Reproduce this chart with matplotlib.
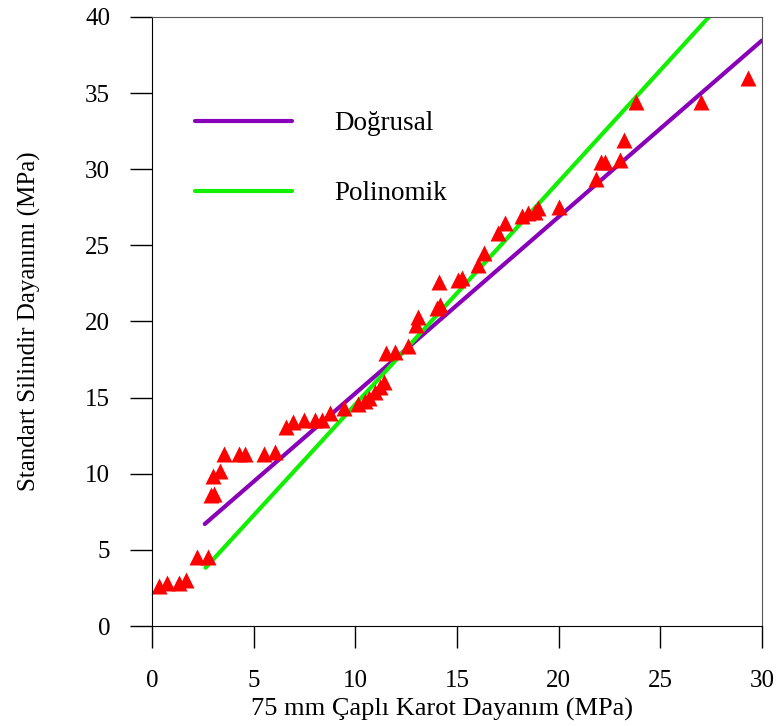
import matplotlib
matplotlib.use("Agg")
import matplotlib.pyplot as plt

plt.rcParams['font.family'] = ['Liberation Serif', 'DejaVu Serif']

# measured points: 75 mm core strength vs standard cylinder strength
core_x = [0.36, 0.75, 1.34, 1.66, 2.23, 2.77, 2.9, 3.05, 3.0, 3.35,
          3.56, 4.28, 4.57, 5.52, 6.05, 6.6, 6.95, 7.5, 8.0, 8.35,
          8.75, 9.45, 10.15, 10.5, 10.7, 10.97, 11.2, 11.4, 11.5, 11.95,
          12.6, 13.0, 13.1, 14.0, 14.15, 14.13, 15.07, 15.23, 16.05, 16.33,
          17.03, 17.36, 18.18, 18.5, 18.85, 19.0, 20.03, 21.85, 22.07, 22.3,
          23.0, 23.2, 23.8, 27.0, 29.3]
cyl_y = [2.65, 2.8, 2.8, 3.0, 4.55, 4.55, 8.6, 8.7, 9.85, 10.2,
         11.3, 11.3, 11.3, 11.3, 11.4, 13.1, 13.4, 13.5, 13.5, 13.5,
         14.0, 14.3, 14.6, 14.75, 15.0, 15.4, 15.7, 16.0, 17.9, 18.0,
         18.4, 19.8, 20.3, 20.9, 21.1, 22.6, 22.7, 22.85, 23.7, 24.5,
         25.8, 26.45, 26.9, 27.1, 27.2, 27.45, 27.55, 29.35, 30.45, 30.45,
         30.6, 31.9, 34.4, 34.4, 36.0]

# fitted curves (end points)
lin_x = [2.6, 30.0]
lin_y = [6.7, 38.45]
poly_x = [2.64, 9.25, 17.12, 27.4]
poly_y = [3.83, 13.45, 24.95, 40.0]

fig = plt.figure(figsize=(7.79, 7.26), dpi=100)
ax = fig.add_axes([0.195, 0.1377, 0.783, 0.839])

ax.plot(lin_x, lin_y, color='#8800b8', lw=3, label='Doğrusal', solid_capstyle='round')
ax.plot(poly_x, poly_y, color='#11f000', lw=3, label='Polinomik', solid_capstyle='round')
ax.plot(core_x, cyl_y, '^', color='#ff0000', ms=12, mec='none', clip_on=False)

ax.set_xlim(0, 30)
ax.set_ylim(0, 40)
ax.set_xticks(range(0, 31, 5))
ax.set_yticks(range(0, 41, 5))
ax.tick_params(direction='out', length=16, width=1, labelsize=18)
ax.tick_params(axis='x', pad=16)
ax.tick_params(axis='y', pad=14)
for side in ['top', 'right']:
    ax.spines[side].set_color('#555555')

ax.set_xlabel('75 mm Çaplı Karot Dayanım (MPa)', fontsize=19, labelpad=4, x=0.475)
ax.set_ylabel('Standart Silindir Dayanımı (MPa)', fontsize=18, labelpad=32)

ax.legend(loc='upper left', bbox_to_anchor=(0.07, 0.845), frameon=False,
          fontsize=19.5, handlelength=3.6, handletextpad=1.55, labelspacing=1.65,
          borderpad=0, borderaxespad=0)

fig.savefig('out.png', dpi=100)
